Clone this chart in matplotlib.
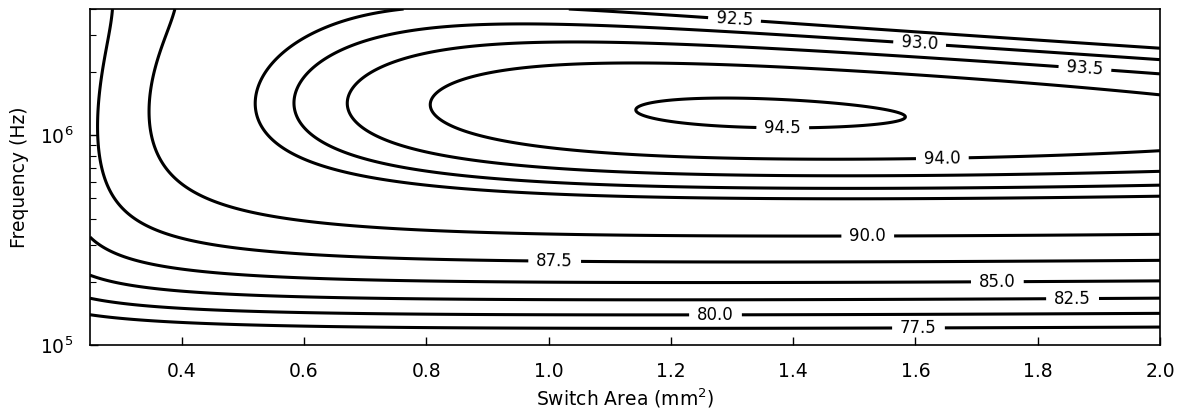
import numpy as np
import matplotlib.pyplot as plt

# contour levels (efficiency, %)
levels = [77.5, 80.0, 82.5, 85.0, 87.5, 90.0, 92.5, 93.0, 93.5, 94.0, 94.5]

# axis ranges
area_range = (0.25, 2.0)      # mm^2
freq_range = (1e5, 4e6)       # Hz

# efficiency model: eta = sum(coef * term), A in mm^2, F in MHz
# terms: 1, 1/A, A*F, F, 1/F, 1/F^2, 1/(A*F^2), 1/(A*F), A, F^2, A*F^2
coef = [102.791, -3.33427, -0.665876, -1.1993, -3.52287, 0.0861554,
        -0.0431209, 0.631185, -0.66632, 0.164135, -0.044]

# where the contour labels sit (area, frequency)
label_spots = [(1.304, 3.53e6), (1.607, 2.77e6), (1.877, 2.04e6), (1.383, 1.09e6),
               (1.644, 7.85e5), (1.522, 3.38e5), (1.010, 2.54e5), (1.734, 2.02e5),
               (1.857, 1.67e5), (1.273, 1.41e5), (1.605, 1.205e5)]


def efficiency(A, F):
    terms = [np.ones_like(A), 1 / A, A * F, F, 1 / F, 1 / F**2,
             1 / (A * F**2), 1 / (A * F), A, F**2, A * F**2]
    return sum(c * t for c, t in zip(coef, terms))


area = np.linspace(area_range[0], area_range[1], 500)
freq = np.logspace(np.log10(freq_range[0]), np.log10(freq_range[1]), 500)
AA, FF = np.meshgrid(area, freq)
eta = efficiency(AA, FF / 1e6)

plt.rcParams['font.size'] = 13.5
fig = plt.figure(figsize=(11.77, 4.12), dpi=100)
ax = fig.add_axes([90 / 1177, 1 - 345 / 412, 1070 / 1177, 336 / 412])
cs = ax.contour(AA, FF, eta, levels=levels, colors='black', linewidths=2.2)
ax.set_yscale('log')
ax.set_xlim(*area_range)
ax.set_ylim(*freq_range)
ax.clabel(cs, fontsize=12, fmt='%.1f', manual=label_spots, inline_spacing=8)
ax.tick_params(which='both', direction='in', top=False, right=False, pad=12)
ax.tick_params(which='major', length=6, width=1)
ax.tick_params(which='minor', length=4, width=0.8)
for s in ax.spines.values():
    s.set_linewidth(1.2)
ax.set_xlabel('Switch Area (mm$^2$)')
ax.set_ylabel('Frequency (Hz)', labelpad=8)
fig.savefig('out.png')
